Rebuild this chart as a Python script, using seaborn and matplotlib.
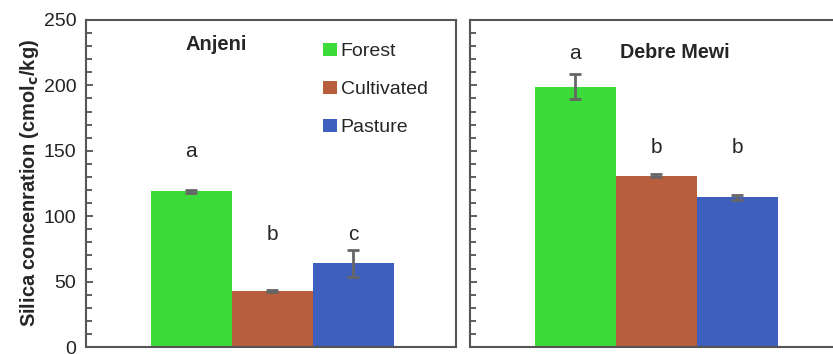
import matplotlib
matplotlib.use("Agg")
import matplotlib.pyplot as plt
from matplotlib.patches import Patch
from matplotlib.ticker import MultipleLocator
import seaborn as sns
import pandas as pd

# Silica concentration by land use at two watersheds
sites = ["Anjeni", "Debre Mewi"]
land_use = ["Forest", "Cultivated", "Pasture"]
anjeni_mean = [119, 42.5, 64]
anjeni_err = [1, 0.8, 10.5]
debre_mean = [199, 131, 114.5]
debre_err = [9.5, 1, 1.8]
anjeni_letters = ["a", "b", "c"]
debre_letters = ["a", "b", "b"]
anjeni_letter_y = [145, 82, 82]
debre_letter_y = [220, 148, 148]
colors = ["#3ddb3a", "#b95e3c", "#3f5fbe"]
yticks = [0, 50, 100, 150, 200, 250]

sns.set_style("white")
plt.rcParams["font.family"] = ["Liberation Sans", "DejaVu Sans"]

fig = plt.figure(figsize=(8.33, 3.54), dpi=100)
ax1 = fig.add_axes([86 / 833, 7 / 354, 370 / 833, 327 / 354])
ax2 = fig.add_axes([470 / 833, 7 / 354, 370 / 833, 327 / 354])

panels = [
    (ax1, sites[0], anjeni_mean, anjeni_err, anjeni_letters, anjeni_letter_y),
    (ax2, sites[1], debre_mean, debre_err, debre_letters, debre_letter_y),
]

for ax, site, means, errs, letters, ly in panels:
    df = pd.DataFrame({"land_use": land_use, "value": means})
    sns.barplot(data=df, x="land_use", y="value", hue="land_use",
                palette=colors, order=land_use, hue_order=land_use,
                width=1.0, errorbar=None, legend=False, ax=ax,
                saturation=1, linewidth=0)
    ax.errorbar(range(len(land_use)), means, yerr=errs, fmt="none",
                ecolor="#666666", elinewidth=2, capsize=4, capthick=2)
    for i, (lab, yv) in enumerate(zip(letters, ly)):
        ax.text(i, yv, lab, ha="center", va="baseline", fontsize=15)
    ax.set_xlim(-1.3, 3.27)
    ax.set_ylim(0, 250)
    ax.set_xlabel("")
    ax.set_ylabel("")
    ax.set_xticks([])
    ax.set_yticks(yticks)
    ax.yaxis.set_minor_locator(MultipleLocator(10))
    ax.tick_params(axis="y", which="major", direction="in", length=5,
                   width=1.2, color="#444444", pad=7, left=True)
    ax.tick_params(axis="y", which="minor", direction="in", length=4,
                   width=1.2, color="#444444", left=True)
    for sp in ax.spines.values():
        sp.set_visible(True)
        sp.set_color("#555555")
        sp.set_linewidth(1.5)

ax1.set_yticklabels([str(t) for t in yticks], fontsize=14, color="#222222")
ax2.tick_params(axis="y", labelleft=False)

ax1.text(0.31, 227, sites[0], ha="center", va="baseline", fontsize=14.5,
         fontweight="bold")
ax2.text(1.23, 221, sites[1], ha="center", va="baseline", fontsize=14.2,
         fontweight="bold")

ax1.set_ylabel("Silica concenration (cmol$_\\mathbf{c}$/kg)", fontsize=14.4,
               fontweight="bold", labelpad=2)

handles = [Patch(facecolor=c, edgecolor="none", label=l)
           for c, l in zip(colors, land_use)]
ax1.legend(handles=handles, loc="upper left", bbox_to_anchor=(0.641, 0.931),
           frameon=False, fontsize=14, handlelength=0.7, handleheight=0.7,
           handletextpad=0.2, labelspacing=1.05, borderaxespad=0,
           borderpad=0)

fig.savefig("out.png", dpi=100)
